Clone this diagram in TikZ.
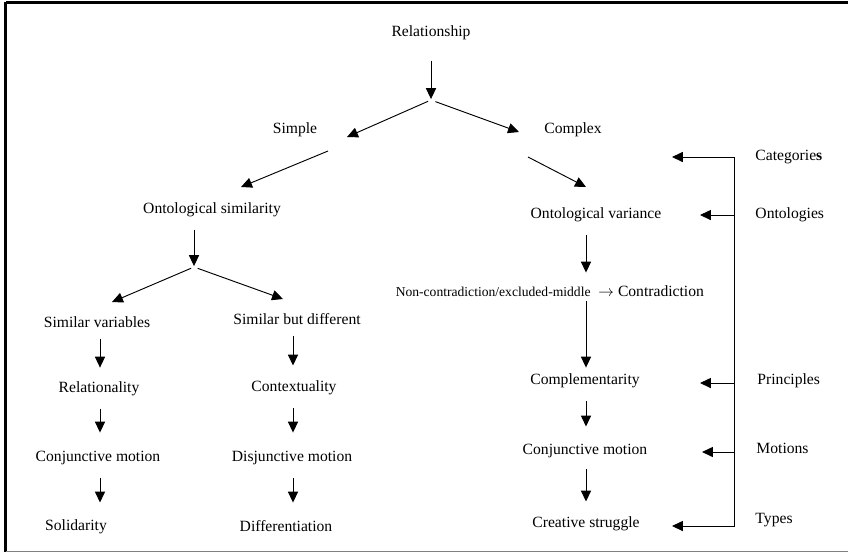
\documentclass[tikz,border=0pt]{standalone}
\usepackage{fontspec}
\setmainfont{Liberation Serif}
\usetikzlibrary{arrows.meta}
\tikzset{
  ncfont/.style={font=\fontsize{8.7}{10}\selectfont},
  lbl/.style={anchor=west},
}
\begin{document}
\begin{tikzpicture}[x=0.64pt,y=-0.64pt,font=\fontsize{10}{12}\selectfont,
  every node/.style={inner sep=0pt,text height=7pt,text depth=2pt},
  >={Triangle[length=7pt,width=6.5pt]},line width=0.6pt]
\useasboundingbox (0,0) rectangle (848,554);
% frame
\draw[line width=1.8pt] (5.5,2.5) -- (848,2.5);
\draw[line width=1.9pt] (5.5,1.5) -- (5.5,552);
\draw[gray,line width=1pt] (5.5,551.5) -- (848,551.5);
% columns and branch points
\coordinate (colL) at (100,0);
\coordinate (colM) at (293,0);
\coordinate (colR) at (586,0);
\coordinate (split1) at (431,100);
\coordinate (split2) at (194,267);
\coordinate (simpleIn) at (347,137);
\coordinate (complexIn) at (519,132);
\coordinate (simpleOut) at (328,151);
\coordinate (ontsimIn) at (241,187);
\coordinate (complexOut) at (528,157);
\coordinate (ontvarIn) at (586,187);
\coordinate (simvarIn) at (112,302);
\coordinate (simdiffIn) at (283,299);
% nodes
\node (rel) at (431,33) {Relationship};
\node (simple) at (295,130) {Simple};
\node (complex) at (573,130) {Complex};
\node (ontsim) at (212,210) {Ontological similarity};
\node (ontvar) at (596,215) {Ontological variance};
\node (simvar) at (97,324) {Similar variables};
\node (simdiff) at (297,321) {Similar but different};
\node (relat) at (99,389) {Relationality};
\node (conjL) at (98,458) {Conjunctive motion};
\node (solid) at (76,527) {Solidarity};
\node (context) at (294,388) {Contextuality};
\node (disj) at (292,458) {Disjunctive motion};
\node (diff) at (286,528) {Differentiation};
\node[ncfont,anchor=east] (nc) at (591,293) {Non-contradiction/excluded-middle};
\node[anchor=west] (contra) at (598,293) {$\rightarrow$ Contradiction};
\node (compl) at (585,381) {Complementarity};
\node (conjR) at (585,451) {Conjunctive motion};
\node (creat) at (586,524) {Creative struggle};
% labels on the right
\node[lbl] (lCat) at (755,157) {Categorie\textbf{s}};
\node[lbl] (lOnt) at (755,215) {Ontologies};
\node[lbl] (lPri) at (757,381) {Principles};
\node[lbl] (lMot) at (756,450) {Motions};
\node[lbl] (lTyp) at (755,520) {Types};
% top of the tree
\draw[->,shorten <=12.8pt,shorten >=0.6pt] (rel.south) -- (split1);
\draw[->,shorten <=2pt] (split1) -- (simpleIn);
\draw[->,shorten <=3pt] (split1) -- (complexIn);
\draw[->] (simpleOut) -- (ontsimIn);
\draw[->] (complexOut) -- (ontvarIn);
% simple side
\draw[->,shorten <=7.7pt,shorten >=0.6pt] (ontsim.south -| split2) -- (split2);
\draw[->,shorten <=2pt] (split2) -- (simvarIn);
\draw[->,shorten <=2.5pt] (split2) -- (simdiffIn);
\draw[->,shorten <=4.5pt,shorten >=8.9pt] (simvar.south -| colL) -- (relat.north -| colL);
\draw[->,shorten <=7.7pt,shorten >=11.5pt] (relat.south -| colL) -- (conjL.north -| colL);
\draw[->,shorten <=7.7pt,shorten >=10.9pt] (conjL.south -| colL) -- (solid.north -| colL);
\draw[->,shorten <=4.5pt,shorten >=9.6pt] (simdiff.south -| colM) -- (context.north -| colM);
\draw[->,shorten <=8.3pt,shorten >=11.5pt] (context.south -| colM) -- (disj.north -| colM);
\draw[->,shorten <=8.3pt,shorten >=11.5pt] (disj.south -| colM) -- (diff.north -| colM);
% complex side
\draw[->,shorten <=8.3pt,shorten >=8.3pt] (ontvar.south -| colR) -- (nc.north -| colR);
\draw[->,shorten <=0.5pt,shorten >=3.8pt] (nc.south -| colR) -- (compl.north -| colR);
\draw[->,shorten <=8.3pt,shorten >=10.9pt] (compl.south -| colR) -- (conjR.north -| colR);
\draw[->,shorten <=7pt,shorten >=9.6pt] (conjR.south -| colR) -- (creat.north -| colR);
% bracket
\coordinate (brk) at (734,0);
\coordinate (tipcol) at (700,0);
\coordinate (catTip) at (672,157);
\coordinate (typTip) at (672,526);
\draw[<->] (catTip) -- (brk |- catTip) -- (brk |- typTip) -- (typTip);
\draw[->] (brk |- lOnt) -- (tipcol |- lOnt);
\draw[->] (brk |- 0,383) -- (tipcol |- 0,383);
\draw[->] (brk |- 0,452) -- ([xshift=1.3pt]tipcol |- 0,452);
\end{tikzpicture}
\end{document}
